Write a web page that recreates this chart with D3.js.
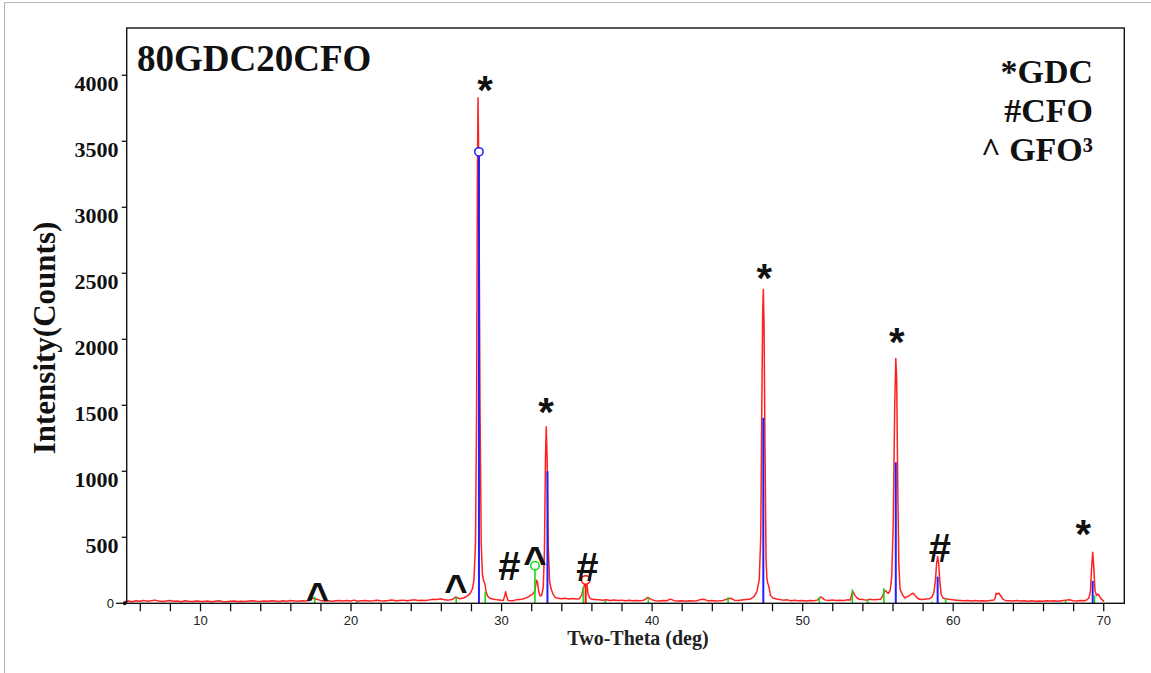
<!DOCTYPE html>
<html><head><meta charset="utf-8">
<script src="https://cdn.jsdelivr.net/npm/d3@7"></script>
<style>
html,body{margin:0;padding:0;background:#fff;}
svg{display:block;}
</style></head>
<body>
<svg id="chart" width="1151" height="673"></svg>
<script>
// ---------- DATA ----------
const chartTitle = "80GDC20CFO";
const xTitle = "Two-Theta (deg)";
const yTitle = "Intensity(Counts)";
const legendLines = ["*GDC", "#CFO", "^ GFO\u00B3"];

const xTickValues = [6,8,10,12,14,16,18,20,22,24,26,28,30,32,34,36,38,40,42,44,46,48,50,52,54,56,58,60,62,64,66,68,70];
const xTickLabels = [10,20,30,40,50,60,70];
const yTickValues = [0,500,1000,1500,2000,2500,3000,3500,4000];

// measured background (every 0.25 deg from 5.00 to 70.00)
const baseStart = 5.0, baseStep = 0.25;
const baseCounts = [
 14,18,12,20,16,22,15,19,24,17,13,18,21,15,17,12,19,16,14,18,
 15,13,17,12,16,19,14,12,15,18,13,16,14,17,19,15,13,18,16,20,
 17,14,19,16,21,18,15,20,17,22,40,30,22,18,20,16,19,22,17,21,
 18,24,16,20,22,17,19,23,20,18,21,25,19,22,24,20,23,26,21,24,
 22,26,30,28,34,26,24,28,48,34,40,55,60,60,60,60,60,40,30,26,
 24,30,22,20,26,28,35,35,35,35,35,35,35,35,35,35,35,38,33,36,
 32,35,35,35,35,28,26,24,27,22,25,21,24,20,23,19,22,20,24,45,
 28,20,18,21,19,32,20,17,20,16,19,17,20,28,30,18,21,17,19,22,
 30,38,24,22,25,28,30,40,40,40,40,40,40,35,28,24,26,20,23,19,
 22,18,21,20,24,48,26,22,25,21,24,22,26,30,30,30,28,24,30,26,
 28,30,30,30,30,30,30,30,30,30,30,30,28,32,35,35,35,35,35,30,
 26,24,22,20,22,18,21,17,20,18,22,30,30,30,30,20,18,21,17,19,
 16,19,15,18,16,20,17,19,16,20,24,27,20,18,22,20,25,25,25,25,
 15
];

// measured peak profiles [2theta, counts]
const peak28 = [[27.8,60],[27.95,75],[28.1,110],[28.2,180],[28.3,450],[28.37,1400],[28.43,3300],[28.47,3830],[28.52,3300],[28.6,1500],[28.68,450],[28.76,220],[28.84,170],[28.92,150],[29.0,90],[29.1,55],[29.25,38]];
const peak30 = [[30.15,22],[30.25,60],[30.3,88],[30.36,55],[30.45,25]];
const peak33 = [[31.5,35],[31.75,45],[31.95,60],[32.1,70],[32.25,95],[32.35,175],[32.42,160],[32.5,90],[32.6,55],[32.7,60],[32.8,120],[32.88,400],[32.95,1100],[33.0,1338],[33.06,1100],[33.13,450],[33.22,170],[33.32,110],[33.45,70],[33.6,45],[33.75,38]];
const peak35 = [[35.2,35],[35.35,60],[35.45,110],[35.52,130],[35.6,175],[35.68,160],[35.78,70],[35.9,38],[36.05,30]];
const peak47 = [[46.6,35],[46.8,50],[47.0,90],[47.15,180],[47.25,500],[47.32,1500],[47.38,2200],[47.42,2378],[47.47,2100],[47.53,1200],[47.6,350],[47.65,200],[47.7,160],[47.78,130],[47.9,60],[48.05,40]];
const peak53 = [[53.2,25],[53.3,70],[53.38,88],[53.5,60],[53.65,40],[53.8,30]];
const peak56 = [[55.2,30],[55.35,55],[55.45,90],[55.55,96],[55.65,80],[55.75,76],[55.85,100],[55.95,200],[56.05,600],[56.15,1500],[56.22,1854],[56.28,1700],[56.35,900],[56.42,300],[56.5,110],[56.6,80],[56.7,60],[56.82,40],[56.95,50],[57.1,55],[57.25,70],[57.38,76],[57.5,60],[57.65,40],[57.8,30]];
const peak59 = [[58.45,35],[58.6,45],[58.75,80],[58.85,170],[58.93,300],[59.0,354],[59.07,300],[59.15,160],[59.23,70],[59.35,40],[59.5,35]];
const peak63 = [[62.75,25],[62.82,40],[62.88,76],[62.95,70],[63.07,76],[63.2,55],[63.35,30],[63.5,22]];
const peak69 = [[68.9,25],[69.05,40],[69.15,90],[69.22,250],[69.3,387],[69.37,280],[69.45,100],[69.55,60],[69.65,70],[69.75,55],[69.85,35],[70.05,15]];
const peakProfiles = [peak28, peak30, peak33, peak35, peak47, peak53, peak56, peak59, peak63, peak69];

// reference pattern sticks [2theta, counts]
const gdcSticks = [[28.53,3420],[33.08,1000],[47.42,1405],[56.22,1068],[59.0,202],[69.3,170]];
const gfoSticks = [[17.62,50],[20.4,12],[27.02,48],[28.95,88],[32.25,285],[35.46,125],[36.92,22],[39.78,45],[45.08,45],[51.14,50],[53.33,106],[54.35,30],[55.43,114],[58.62,12],[59.53,35],[67.5,20],[69.42,60]];
const cfoSticks = [[35.62,177]];
const stickCircles = [
  {series:"gdc", x:28.53, y:3420},
  {series:"gfo", x:32.25, y:285},
  {series:"cfo", x:35.62, y:177}
];

// peak annotations: symbol, 2theta, counts (glyph centre)
const markSymbols = ["*","*","*","*","*","#","#","#","^","^","^"];
const markTheta   = [28.93,32.98,47.48,56.28,68.68,30.55,35.74,59.15,17.8,27.0,32.25];
const markCounts  = [3938,1503,2518,2033,579,290,275,421,93,150,366];

// ---------- DRAW ----------
const svg = d3.select("#chart");
const L = 126.7, R = 1124.3, T = 28, B = 603.3;
const x = d3.scaleLinear().domain([5.13, 71.4]).range([L, R]);
const y = d3.scaleLinear().domain([0, 4358]).range([B, T]);

// outer light border
svg.append("line").attr("x1",4.5).attr("x2",4.5).attr("y1",2.5).attr("y2",673).attr("stroke","#b4b4b4").attr("stroke-width",1);
svg.append("line").attr("x1",4.5).attr("x2",1151).attr("y1",2.5).attr("y2",2.5).attr("stroke","#b4b4b4").attr("stroke-width",1);

// build measured trace
const ranges = peakProfiles.map(p => [p[0][0], p[p.length-1][0]]);
const basePts = baseCounts.map((c,i) => [+(baseStart + i*baseStep).toFixed(2), c])
  .filter(([t]) => !ranges.some(([a,b]) => t >= a && t <= b));
const trace = basePts.concat(...peakProfiles).sort((a,b) => a[0]-b[0]);

const line = d3.line().x(d => x(d[0])).y(d => y(d[1]));
svg.append("path").datum(trace).attr("d", line)
  .attr("fill","none").attr("stroke","#ff2020").attr("stroke-width",1.5).attr("stroke-linejoin","round");

function sticks(data, color, w){
  svg.append("g").selectAll("line").data(data).join("line")
    .attr("x1", d => x(d[0])).attr("x2", d => x(d[0]))
    .attr("y1", y(0)).attr("y2", d => y(d[1]))
    .attr("stroke", color).attr("stroke-width", w);
}
const colors = {gdc:"#2020ff", gfo:"#10dd10", cfo:"#ff1010"};
sticks(gfoSticks, colors.gfo, 1.6);
sticks(cfoSticks, colors.cfo, 2);
sticks(gdcSticks, colors.gdc, 2);

svg.append("g").selectAll("circle").data(stickCircles).join("circle")
  .attr("cx", d => x(d.x)).attr("cy", d => y(d.y)).attr("r", 4.2)
  .attr("fill","#fff").attr("stroke", d => colors[d.series]).attr("stroke-width",1.5);

// frame
svg.append("rect").attr("x",L).attr("y",T).attr("width",R-L).attr("height",B-T)
  .attr("fill","none").attr("stroke","#111").attr("stroke-width",1.4);

// x axis
const xAxis = d3.axisBottom(x).tickValues(xTickValues)
  .tickFormat(d => xTickLabels.includes(d) ? d : "")
  .tickSize(8).tickPadding(4.5);
const gx = svg.append("g").attr("transform",`translate(0,${B})`).call(xAxis);
gx.select(".domain").remove();
gx.selectAll(".tick line").attr("stroke","#111").attr("stroke-width",1.3);
gx.selectAll("text").attr("font-family","'Liberation Sans', Arial, sans-serif").attr("font-size",13).attr("fill","#222");

// y axis ticks and labels
const gy = svg.append("g");
gy.selectAll("line").data(yTickValues).join("line")
  .attr("x1", d => d===0 ? 116 : L-5).attr("x2", L)
  .attr("y1", d => y(d)).attr("y2", d => y(d)).attr("stroke","#111").attr("stroke-width",1.3);
gy.append("circle").attr("cx",L-2).attr("cy",y(0)).attr("r",2).attr("fill","#111");
gy.selectAll("text").data(yTickValues).join("text")
  .attr("x", d => d===0 ? 114 : 118.5)
  .attr("y", d => d===0 ? y(0)+4.5 : y(d)+15.5)
  .attr("text-anchor","end")
  .attr("font-family", d => d===0 ? "'Liberation Sans', Arial, sans-serif" : "'Liberation Serif', 'Times New Roman', serif")
  .attr("font-weight", d => d===0 ? "normal" : "bold")
  .attr("font-size", d => d===0 ? 13 : 22)
  .attr("fill","#111")
  .text(d => d);

// titles
svg.append("text").attr("x",137).attr("y",71)
  .attr("font-family","'Liberation Serif', 'Times New Roman', serif").attr("font-weight","bold")
  .attr("font-size",37).attr("fill","#111").text(chartTitle);

svg.append("g").selectAll("text").data(legendLines).join("text")
  .attr("x",1093).attr("y",(d,i) => 83 + i*39).attr("text-anchor","end")
  .attr("font-family","'Liberation Serif', 'Times New Roman', serif").attr("font-weight","bold")
  .attr("font-size",34).attr("fill","#111").text(d => d);

svg.append("text").attr("transform","translate(55,338) rotate(-90)").attr("text-anchor","middle")
  .attr("font-family","'Liberation Serif', 'Times New Roman', serif").attr("font-weight","bold")
  .attr("font-size",31).attr("fill","#111").text(yTitle);

svg.append("text").attr("x",638).attr("y",645).attr("text-anchor","middle")
  .attr("font-family","'Liberation Serif', 'Times New Roman', serif").attr("font-weight","bold")
  .attr("font-size",20).attr("fill","#222").text(xTitle);

// peak markers
const glyphOffset = {"*":21, "#":14.5, "^":20};
svg.append("g").selectAll("text").data(markSymbols).join("text")
  .attr("x", (d,i) => x(markTheta[i]))
  .attr("y", (d,i) => y(markCounts[i]) + glyphOffset[d])
  .attr("text-anchor","middle")
  .attr("font-family","'Liberation Sans', Arial, sans-serif").attr("font-weight","bold")
  .attr("font-size",40).attr("fill","#111").text(d => d);
</script>
</body></html>
